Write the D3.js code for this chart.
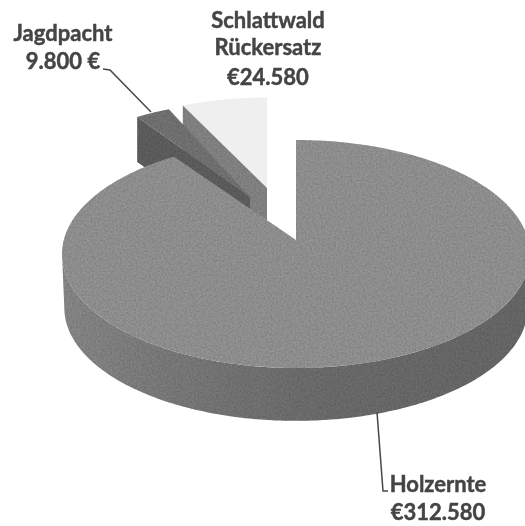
<!DOCTYPE html>
<html>
<head>
<meta charset="utf-8">
<script src="https://cdnjs.cloudflare.com/ajax/libs/d3/7.8.5/d3.min.js"></script>
<style>
  html, body { margin: 0; padding: 0; background: #fff; }
  text { font-family: Lato, "Open Sans", sans-serif; font-weight: 700; fill: #444; stroke: #444; stroke-width: 0.45px; font-size: 22px; text-anchor: middle; }
</style>
</head>
<body>
<div id="chart"></div>
<script>
const categories = ["Holzernte", "Jagdpacht", "Schlattwald Rückersatz"];
const values = [312580, 9800, 24580];
const valueLabels = ["€312.580", "9.800 €", "€24.580"];

const width = 525, height = 526;
const rx = 234, ry = 114, depth = 54;

const svg = d3.select("#chart").append("svg")
  .attr("width", width).attr("height", height)
  .style("display", "block");

const defs = svg.append("defs");
const grain = defs.append("filter").attr("id", "grain").attr("x", "-5%").attr("y", "-5%").attr("width", "110%").attr("height", "110%");
grain.append("feTurbulence").attr("type", "fractalNoise").attr("baseFrequency", 0.55).attr("numOctaves", 3).attr("seed", 4).attr("result", "n");
grain.append("feColorMatrix").attr("in", "n").attr("type", "matrix")
  .attr("values", "0 0 0 0 0  0 0 0 0 0  0 0 0 0 0  0.55 0 0 0 -0.17").attr("result", "n2");
grain.append("feComposite").attr("in", "n2").attr("in2", "SourceAlpha").attr("operator", "in").attr("result", "n3");
const m = grain.append("feMerge");
m.append("feMergeNode").attr("in", "SourceGraphic");
m.append("feMergeNode").attr("in", "n3");
const soft = defs.append("filter").attr("id", "soft");
soft.append("feGaussianBlur").attr("stdDeviation", 0.35);

// wall gets darker from left to right
const wallGrad = defs.append("linearGradient").attr("id", "wall");
[[0, "#8a8a8a"], [0.2, "#7e7e7e"], [0.55, "#6e6e6e"], [1, "#6a6a6a"]].forEach(s => {
  wallGrad.append("stop").attr("offset", s[0]).attr("stop-color", s[1]);
});

// pie angles, starting at 12 o'clock going clockwise
const pie = d3.pie().sort(null).value(d => d)(values);

// the tilt squeezes the angles at the back of the disc
function warp(a) { return a - 0.0785 * Math.sin(2 * a); }

function pt(a, o, dz, k) {
  const w = warp(a);
  const kk = k || 1;
  return [o.cx + rx * o.s * kk * Math.sin(w), o.cy - ry * o.s * kk * Math.cos(w) + (dz || 0)];
}
function arcPts(a0, a1, o, dz, k) {
  const n = Math.max(2, Math.ceil(Math.abs(a1 - a0) / 0.02));
  return d3.range(n + 1).map(i => pt(a0 + (a1 - a0) * i / n, o, dz, k));
}
const line = d3.line();

// o: ellipse centre, scale and where the slice tip sits
const big = { cx: 296, cy: 254, s: 1, tip: [296, 240] };
const jagd = { cx: 250, cy: 207, s: 0.925, tip: [250, 197] };
const schlatt = { cx: 267, cy: 207, s: 0.96, tip: [267, 188] };

// Schlattwald: nearly white top, cut wall towards the viewer
let g = svg.append("g").attr("filter", "url(#soft)");
let e = pt(pie[2].startAngle, schlatt);
g.append("path").attr("d", line([schlatt.tip].concat(arcPts(pie[2].startAngle, pie[2].endAngle, schlatt))) + "Z")
  .attr("fill", "#efefef");
g = svg.append("g").attr("filter", "url(#grain)");
g.append("path").attr("d", line([e, schlatt.tip, [schlatt.tip[0], schlatt.tip[1] + 45], [e[0], e[1] + 45]]) + "Z")
  .attr("fill", "#868686");

// Jagdpacht
e = pt(pie[1].startAngle, jagd);
g = svg.append("g").attr("filter", "url(#grain)");
g.append("path").attr("d", line([e, jagd.tip, [jagd.tip[0], jagd.tip[1] + 45], [e[0], e[1] + 45]]) + "Z")
  .attr("fill", "#606060");
g.append("path").attr("d", line([jagd.tip].concat(arcPts(pie[1].startAngle, pie[1].endAngle, jagd))) + "Z")
  .attr("fill", "#747474");

// Holzernte: outer wall on the front half, then the top face
g = svg.append("g").attr("filter", "url(#grain)");
const wallTop = arcPts(Math.PI / 2, Math.PI * 1.5, big);
const wallBot = arcPts(Math.PI * 1.5, Math.PI / 2, big, depth, 0.99);
g.append("path").attr("d", line(wallTop.concat(wallBot)) + "Z").attr("fill", "url(#wall)");
g.append("path").attr("d", line([big.tip].concat(arcPts(pie[0].startAngle, pie[0].endAngle, big))) + "Z")
  .attr("fill", "#949494");

// leader lines
const leaders = [
  [[377, 412], [383, 491], [388, 491]],
  [[103, 69], [110, 70], [151, 112]]
];
svg.selectAll(".leader").data(leaders).enter().append("path")
  .attr("class", "leader")
  .attr("d", d => line(d))
  .attr("fill", "none").attr("stroke", "#474747").attr("stroke-width", 1.5);

// labels
const labels = [
  { x: 438, lines: [[categories[0], 492], [valueLabels[0], 520]] },
  { x: 63, lines: [[categories[1], 41], [valueLabels[1], 69]] },
  { x: 268, lines: [["Schlattwald", 28], ["Rückersatz", 55], [valueLabels[2], 85]] }
];
labels.forEach(l => {
  l.lines.forEach(t => svg.append("text").attr("x", l.x).attr("y", t[1]).attr("filter", "url(#soft)").text(t[0]));
});
</script>
</body>
</html>
